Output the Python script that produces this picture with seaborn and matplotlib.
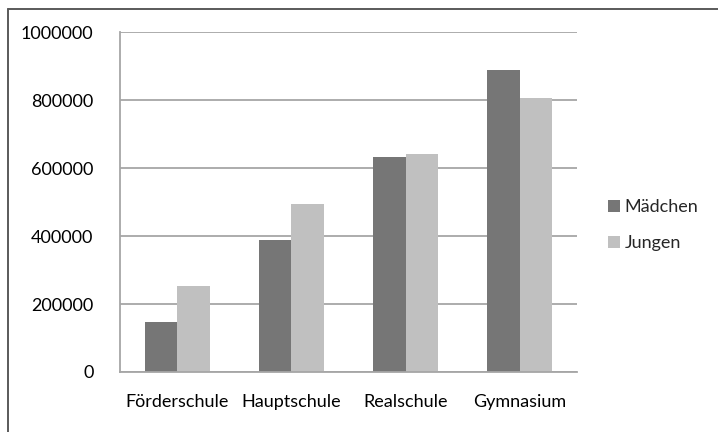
import matplotlib
matplotlib.use("Agg")
import matplotlib.pyplot as plt
from matplotlib.patches import Patch
from matplotlib.lines import Line2D
import seaborn as sns
import pandas as pd

schools = ["Förderschule", "Hauptschule", "Realschule", "Gymnasium"]
maedchen = [146000, 390000, 634000, 889000]
jungen = [252000, 494000, 641000, 808000]
series = ["Mädchen", "Jungen"]
colors = {"Mädchen": "#767676", "Jungen": "#c0c0c0"}
yticks = [0, 200000, 400000, 600000, 800000, 1000000]

df = pd.DataFrame({
    "Schulform": schools * 2,
    "Anzahl": maedchen + jungen,
    "Geschlecht": ["Mädchen"] * 4 + ["Jungen"] * 4,
})

sns.set_style("white")
plt.rcParams["font.family"] = ["Lato", "DejaVu Sans"]

W, H = 718, 432
fig = plt.figure(figsize=(W / 100, H / 100), dpi=100)
ax = fig.add_axes([120 / W, (H - 372) / H, (577 - 120) / W, (372 - 32.3) / H])

sns.barplot(data=df, x="Schulform", y="Anzahl", hue="Geschlecht",
            hue_order=series, palette=colors, width=0.57, linewidth=0,
            saturation=1, ax=ax, legend=False)

ax.set_xlim(-0.5, 3.5)
ax.set_ylim(0, 1000000)
ax.set_yticks(yticks)
ax.set_yticklabels([str(v) for v in yticks])
ax.yaxis.grid(True, color="#a6a6a6", linewidth=1.3)
ax.set_axisbelow(True)
ax.set_xlabel("")
ax.set_ylabel("")

for side in ["top", "right"]:
    ax.spines[side].set_visible(False)
for side in ["left", "bottom"]:
    ax.spines[side].set_color("#a6a6a6")
    ax.spines[side].set_linewidth(1.3)

ax.set_xticks([-0.5, 0.5, 1.5, 2.5, 3.5], minor=True)
ax.tick_params(axis="x", which="minor", length=5, width=1.3, color="#a6a6a6", direction="out")
ax.tick_params(axis="x", which="major", length=0, pad=16, labelsize=13, labelcolor="#000000")
ax.tick_params(axis="y", length=6, width=1.3, color="#a6a6a6", direction="out",
               pad=13, labelsize=13, labelcolor="#000000")

handles = [Patch(facecolor=colors[s], edgecolor="none") for s in series]
fig.legend(handles, series, loc="center left", bbox_to_anchor=(594 / W, 1 - 225 / H),
           frameon=False, fontsize=13, handlelength=0.65, handleheight=0.65,
           handletextpad=0.25, labelspacing=1.1, borderpad=0.3)

# outer chart frame (only top and left edges visible)
fig.add_artist(Line2D([8 / W, 1], [1 - 8.5 / H, 1 - 8.5 / H], color="#5a5a5a", linewidth=1.4,
                      transform=fig.transFigure))
fig.add_artist(Line2D([8 / W, 8 / W], [0, 1 - 8.5 / H], color="#5a5a5a", linewidth=1.4,
                      transform=fig.transFigure))

fig.savefig("out.png", dpi=100, facecolor="white")
